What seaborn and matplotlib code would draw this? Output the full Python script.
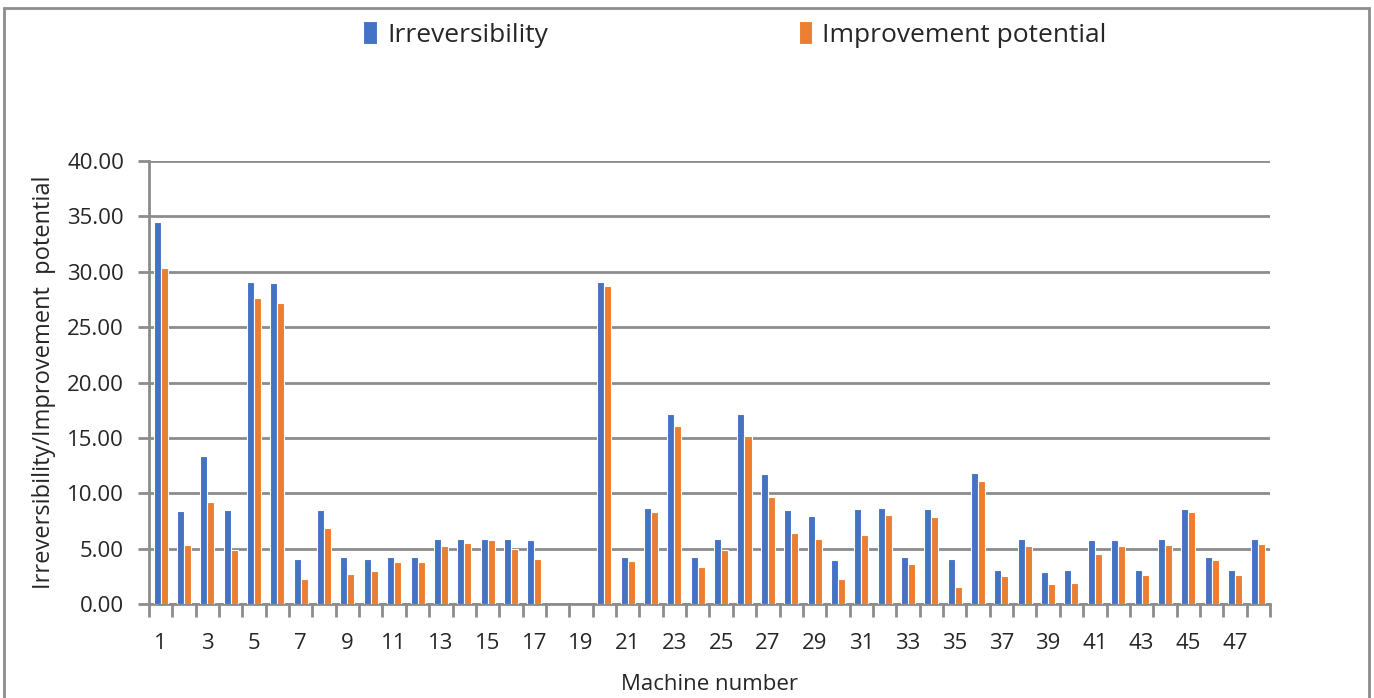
import numpy as np
import pandas as pd
import matplotlib.pyplot as plt
import seaborn as sns
from matplotlib.patches import Rectangle

# machine numbers 1..48 (18 and 19 have no data)
machines = [str(i) for i in range(1, 49)]

irreversibility = [34.5, 8.4, 13.4, 8.5, 29.1, 29.0, 4.1, 8.5, 4.2, 4.1,
                   4.2, 4.2, 5.85, 5.85, 5.85, 5.85, 5.75, np.nan, np.nan, 29.1,
                   4.25, 8.65, 17.15, 4.25, 5.85, 17.15, 11.7, 8.45, 7.95, 4.0,
                   8.55, 8.65, 4.25, 8.55, 4.1, 11.8, 3.05, 5.85, 2.85, 3.05,
                   5.75, 5.75, 3.05, 5.85, 8.55, 4.25, 3.05, 5.85]

improvement = [30.3, 5.35, 9.25, 4.85, 27.6, 27.15, 2.25, 6.9, 2.7, 2.95,
               3.75, 3.75, 5.25, 5.5, 5.75, 4.95, 4.1, np.nan, np.nan, 28.75,
               3.9, 8.3, 16.1, 3.3, 4.85, 15.2, 9.7, 6.45, 5.85, 2.25,
               6.2, 8.05, 3.65, 7.85, 1.55, 11.1, 2.5, 5.2, 1.8, 1.9,
               4.5, 5.2, 2.6, 5.3, 8.35, 4.0, 2.6, 5.4]

series_names = ['Irreversibility', 'Improvement potential']
colors = ['#4472C4', '#ED7D31']
y_ticks = [0, 5, 10, 15, 20, 25, 30, 35, 40]

df = pd.DataFrame({
    'machine': machines * 2,
    'value': irreversibility + improvement,
    'series': [series_names[0]] * len(machines) + [series_names[1]] * len(machines),
})

sns.set_style("white")
plt.rcParams['font.family'] = ['Open Sans', 'DejaVu Sans']

fig = plt.figure(figsize=(13.74, 6.98), dpi=100)
ax = fig.add_axes([0.1084, 0.1347, 0.8159, 0.6346])

sns.barplot(data=df, x='machine', y='value', hue='series', order=machines,
            hue_order=series_names, palette=colors, width=0.6,
            edgecolor='white', linewidth=0.8, saturation=1, ax=ax, zorder=3)

grid_c = '#8c8c8c'
ax.set_ylim(0, 40)
ax.set_xlim(-0.5, len(machines) - 0.5)
ax.set_yticks(y_ticks)
ax.set_yticklabels([f"{v:.2f}" for v in y_ticks])
ax.yaxis.grid(True, color=grid_c, linewidth=2, zorder=0)
ax.set_axisbelow(True)

ax.set_xticks(range(0, len(machines), 2))
ax.set_xticklabels(machines[::2])
ax.set_xticks(np.arange(-0.5, len(machines), 1), minor=True)
ax.tick_params(axis='x', which='major', length=0, labelsize=16, pad=21, bottom=True)
ax.tick_params(axis='x', which='minor', length=9, width=2, color=grid_c,
               direction='out', bottom=True)
ax.tick_params(axis='y', length=8, width=2, color=grid_c, labelsize=16, pad=10, left=True)

for s in ['top', 'right']:
    ax.spines[s].set_visible(False)
for s in ['left', 'bottom']:
    ax.spines[s].set_color(grid_c)
    ax.spines[s].set_linewidth(2)

ax.set_xlabel('Machine number', fontsize=16, labelpad=14)
ax.set_ylabel('Irreversibility/Improvement  potential', fontsize=17, labelpad=8)

ax.legend_.remove()
handles, labels = ax.get_legend_handles_labels()
fig.legend(handles, labels, loc='center', bbox_to_anchor=(0.535, 0.951), ncol=2,
           frameon=False, fontsize=19, handlelength=0.5, handleheight=1.0,
           handletextpad=0.4, columnspacing=9.5)

fig.patches.append(Rectangle((0.003, -0.01), 0.993, 0.998, transform=fig.transFigure,
                             fill=False, edgecolor='#8c8c8c', linewidth=2))

plt.savefig("out.png", dpi=100)
